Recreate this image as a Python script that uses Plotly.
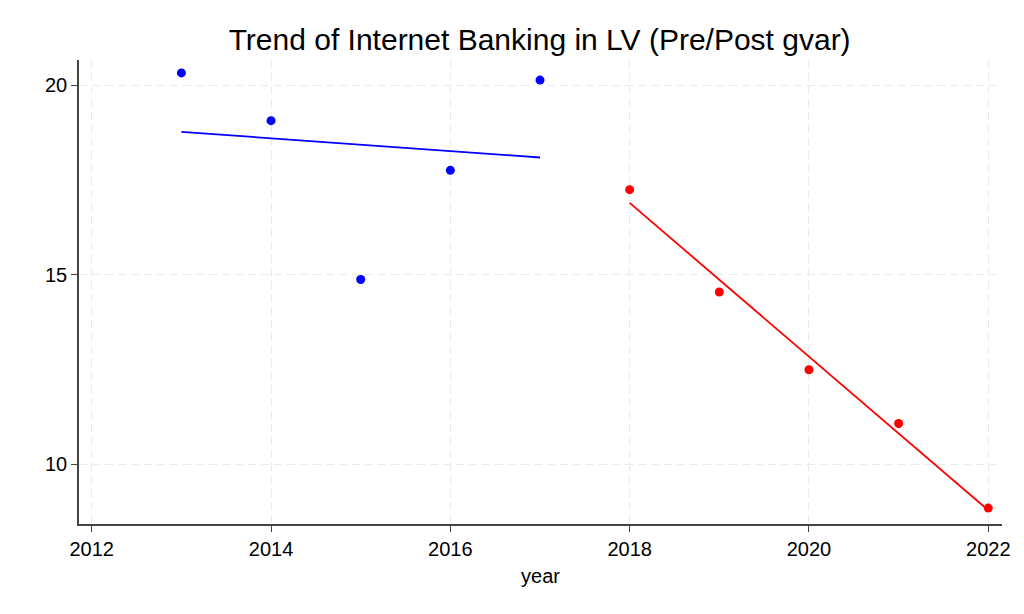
import numpy as np
import plotly.graph_objects as go

pre_years = [2013, 2014, 2015, 2016, 2017]
pre_values = [20.33, 19.07, 14.88, 17.76, 20.14]
post_years = [2018, 2019, 2020, 2021, 2022]
post_values = [17.25, 14.55, 12.50, 11.08, 8.85]
x_ticks = [2012, 2014, 2016, 2018, 2020, 2022]
y_ticks = [10, 15, 20]

def fit(xs, ys):
    b, a = np.polyfit(xs, ys, 1)
    return [b * x + a for x in xs]

pre_fit = fit(pre_years, pre_values)
post_fit = fit(post_years, post_values)

fig = go.Figure()
fig.add_trace(go.Scatter(x=pre_years, y=pre_values, mode="markers",
                         marker=dict(color="blue", size=9), showlegend=False))
fig.add_trace(go.Scatter(x=[pre_years[0], pre_years[-1]], y=[pre_fit[0], pre_fit[-1]],
                         mode="lines", line=dict(color="blue", width=1.8), showlegend=False))
fig.add_trace(go.Scatter(x=post_years, y=post_values, mode="markers",
                         marker=dict(color="red", size=9), showlegend=False))
fig.add_trace(go.Scatter(x=[post_years[0], post_years[-1]], y=[post_fit[0], post_fit[-1]],
                         mode="lines", line=dict(color="red", width=1.8), showlegend=False))

fig.update_layout(
    width=1024, height=614,
    paper_bgcolor="white", plot_bgcolor="white",
    margin=dict(l=79, r=22, t=60, b=90),
    font=dict(family="Liberation Sans, Arial, sans-serif", color="black", size=20),
    title=dict(text="Trend of Internet Banking in LV (Pre/Post gvar)",
               x=0.527, xanchor="center", y=0.935, yanchor="middle",
               font=dict(size=30, color="black")),
    xaxis=dict(range=[2011.858, 2022.153], tickvals=x_ticks,
               tickfont=dict(size=20),
               showline=True, linecolor="#444", linewidth=1.5,
               ticks="outside", ticklen=6, tickcolor="#444", tickwidth=1,
               showgrid=True, gridcolor="#eaeaea", griddash="8px,5px", gridwidth=1.3,
               zeroline=False, title=dict(text="year", font=dict(size=20), standoff=10)),
    yaxis=dict(range=[8.43, 20.67], tickvals=y_ticks,
               tickfont=dict(size=20),
               showline=True, linecolor="#444", linewidth=1.5,
               ticks="outside", ticklen=6, tickcolor="#444", tickwidth=1,
               showgrid=True, gridcolor="#eaeaea", griddash="8px,5px", gridwidth=1.3,
               zeroline=False),
)
fig.write_html("out.html", config={"displayModeBar": False},
               post_script="document.body.style.margin='0px';")
